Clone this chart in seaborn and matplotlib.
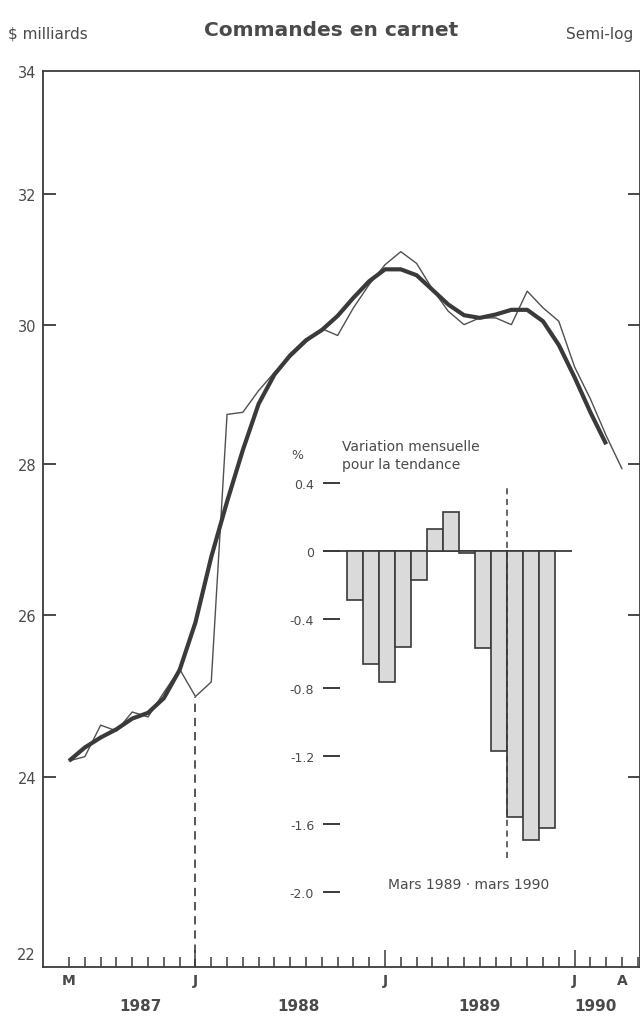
import pandas as pd
import seaborn as sns
import matplotlib.pyplot as plt

# Monthly backlog of orders, $ billions, May 1987 - April 1990
months = list(range(36))
actual = [24.19, 24.24, 24.62, 24.55, 24.78, 24.72, 25.02, 25.31, 24.97, 25.15,
          28.70, 28.73, 29.04, 29.30, 29.52, 29.74, 29.94, 29.84, 30.25, 30.60,
          30.90, 31.10, 30.92, 30.53, 30.20, 30.00, 30.10, 30.10, 30.00, 30.50,
          30.25, 30.05, 29.38, 28.92, 28.40, 27.94]
# trend (ends one month earlier)
trend = [24.19, 24.35, 24.47, 24.57, 24.70, 24.77, 24.95, 25.30, 25.90, 26.75,
         27.49, 28.20, 28.85, 29.27, 29.55, 29.77, 29.92, 30.13, 30.40, 30.65,
         30.83, 30.83, 30.74, 30.52, 30.30, 30.14, 30.10, 30.15, 30.22, 30.22,
         30.05, 29.70, 29.23, 28.73, 28.28]

month_ticks = [0, 8, 20, 32, 35]
month_labels = ["M", "J", "J", "J", "A"]
years = ["1987", "1988", "1989", "1990"]
year_pos = [4.5, 14.5, 26, 33.3]
y_ticks = [22, 24, 26, 28, 30, 32, 34]

# inset: monthly % change of the trend, March 1989 - March 1990
bar_months = ["mars 89", "avr 89", "mai 89", "juin 89", "juil 89", "août 89", "sept 89",
              "oct 89", "nov 89", "déc 89", "janv 90", "févr 90", "mars 90"]
trend_change = [-0.29, -0.66, -0.77, -0.56, -0.17, 0.13, 0.23, -0.01, -0.57, -1.17,
                -1.56, -1.69, -1.62]
inset_ticks = [0.4, 0, -0.4, -0.8, -1.2, -1.6, -2.0]
inset_labels = ["0.4", "0", "-0.4", "-0.8", "-1.2", "-1.6", "-2.0"]

sns.set_style("white")
plt.rcParams['font.family'] = ['DejaVu Sans']
dark = "#3a3a3a"
txt = "#4a4a4a"

fig = plt.figure(figsize=(6.4, 10.2), dpi=100)
ax = fig.add_axes([43 / 640, 52 / 1020, 597 / 640, 896 / 1020])

sns.lineplot(x=months, y=actual, ax=ax, color="#505050", linewidth=1.0)
sns.lineplot(x=months[:len(trend)], y=trend, ax=ax, color=dark, linewidth=3.0,
             solid_capstyle="butt")

ax.set_yscale("log")
ax.set_xlim(-1.65, 36.14)
ax.set_ylim(21.85, 34)

# dashed drop line at the January 1988 low
ax.vlines(months[8], 21.85, actual[8], colors=dark, linestyles=(0, (5, 3.5)), linewidth=1.2)

for side in ["left", "right", "top", "bottom"]:
    ax.spines[side].set_color(dark)
    ax.spines[side].set_linewidth(1.3)

ax.yaxis.set_minor_locator(plt.NullLocator())
ax.set_yticks(y_ticks)
ax.set_yticklabels([str(v) for v in y_ticks])
ax.tick_params(axis="y", which="major", direction="in", left=True, right=True,
               length=9, width=1.3, color=dark, labelsize=10.5, labelcolor=txt, pad=5)
for t, v in zip(ax.yaxis.get_major_ticks(), y_ticks):
    if v in (22, 34):
        t.tick1line.set_visible(False)
        t.tick2line.set_visible(False)

ax.set_xticks(month_ticks)
ax.set_xticklabels(month_labels, fontweight="bold")
ax.set_xticks(range(0, 37), minor=True)
ax.tick_params(axis="x", which="both", direction="in", bottom=True, top=False,
               length=7.5, width=1.1, color=dark, labelsize=10, labelcolor=txt, pad=4)
for t, v in zip(ax.xaxis.get_major_ticks(), month_ticks):
    if v in (8, 20, 32):
        t.tick1line.set_markersize(12)

for yr, xp in zip(years, year_pos):
    ax.text(xp, -0.043, yr, transform=ax.get_xaxis_transform(), ha="center", va="center",
            fontsize=11, fontweight="bold", color=txt)

ax.set_xlabel("")
ax.set_ylabel("")

# header
fig.text(8 / 640, 1 - 34 / 1020, "$ milliards", fontsize=11, color=txt, va="center")
fig.text(331 / 640, 1 - 30 / 1020, "Commandes en carnet", fontsize=14.5, fontweight="bold",
         color=txt, ha="center", va="center")
fig.text(566 / 640, 1 - 34 / 1020, "Semi-log", fontsize=11, color=txt, va="center")

# inset bar chart
axin = fig.add_axes([322.5 / 640, (1020 - 902) / 1020, 249.5 / 640, 427 / 1020])
axin.set_facecolor("none")
df = pd.DataFrame({"mois": bar_months, "variation": trend_change})
sns.barplot(data=df, x="mois", y="variation", ax=axin, color="#dadada", saturation=1,
            edgecolor=dark, linewidth=1.2, width=1.0)
axin.set_xlim(-2.01, 13.56)
axin.set_ylim(-2.05, 0.45)
axin.axhline(0, color=dark, linewidth=1.3, zorder=0)
axin.vlines(9.5, -1.8, 0.38, colors=dark, linestyles=(0, (4, 3)), linewidth=1.1)
for side in axin.spines.values():
    side.set_visible(False)
axin.set_xticks([])
axin.set_yticks(inset_ticks)
axin.set_yticklabels(inset_labels)
axin.tick_params(axis="y", direction="in", left=True, length=12, width=1.4, color=dark,
                 labelsize=9, labelcolor=txt, pad=6)
axin.set_xlabel("")
axin.set_ylabel("")
axin.text(-0.1, 1.046, "%", transform=axin.transAxes, fontsize=9, color=txt,
          ha="center", va="center")
axin.text(0.08, 1.045, "Variation mensuelle\npour la tendance", transform=axin.transAxes,
          fontsize=10, color=txt, ha="left", va="center", linespacing=1.35)
axin.text(0.584, 0.039, "Mars 1989 · mars 1990", transform=axin.transAxes,
          fontsize=10, color=txt, ha="center", va="center")

fig.savefig("out.png", dpi=100, facecolor="white")
